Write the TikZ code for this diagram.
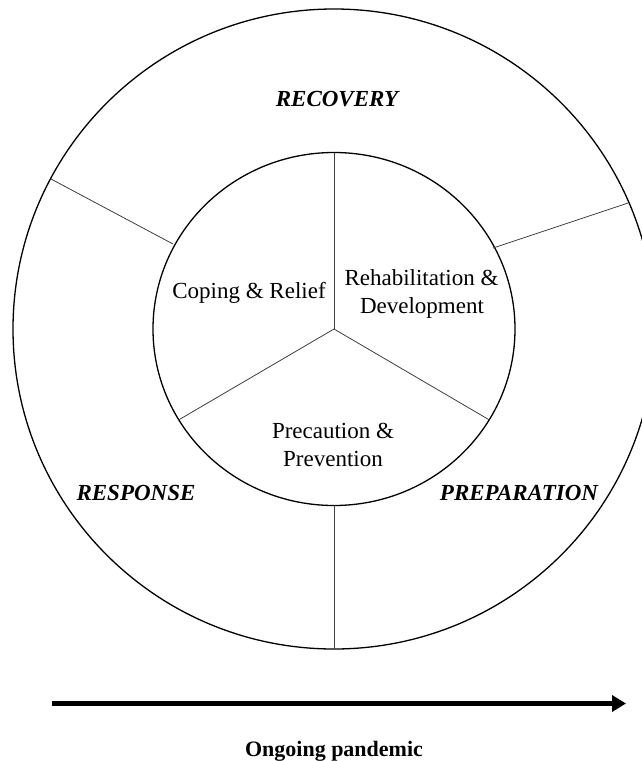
\documentclass[tikz,border=0pt]{standalone}
\usepackage{fontspec}
\setmainfont{Liberation Serif}
\usetikzlibrary{arrows.meta}
\tikzset{
  ring/.style={line width=1.3pt, draw=black},
  divider/.style={line width=0.8pt, draw=black!75},
  phase/.style={font=\fontsize{23}{28}\selectfont\bfseries\itshape, anchor=base, inner sep=0pt},
  inner/.style={font=\fontsize{23}{28}\selectfont, anchor=base, inner sep=0pt},
  timeline/.style={line width=5pt, -{Triangle[length=14pt,width=16pt]}},
  caption/.style={font=\fontsize{22}{26}\selectfont\bfseries, anchor=base, inner sep=0pt}
}
\begin{document}
\begin{tikzpicture}[x=1pt,y=-1pt]
\useasboundingbox (0,0) rectangle (642,761);
\fill[white] (0,0) rectangle (642,761);
\begin{scope}
\clip (0,0) rectangle (642,761);
% outer ring
\draw[ring] (334,329) ellipse [x radius=321, y radius=320];
% inner circle
\draw[ring] (334,329) ellipse [x radius=181, y radius=176.5];
% coordinates
\coordinate (c) at (334,329);
\coordinate (itop) at (334,152.5);
\coordinate (ill) at (178.5,420);
\coordinate (ilr) at (489.5,420);
\coordinate (iul) at (173,244);
\coordinate (oul) at (51,179);
\coordinate (iur) at (493,248);
\coordinate (our) at (628,203);
\coordinate (ibot) at (334,505.5);
\coordinate (obot) at (334,649);
% spokes
\draw[divider] (c) -- (itop);
\draw[divider] (c) -- (ill);
\draw[divider] (c) -- (ilr);
% ring dividers
\draw[divider] (iul) -- (oul);
\draw[divider] (iur) -- (our);
\draw[divider] (ibot) -- (obot);
\end{scope}
% labels
\node[phase] (recovery) at (337,106) {RECOVERY};
\node[phase] (response) at (136,500) {RESPONSE};
\node[phase] (preparation) at (519,500) {PREPARATION};
\node[inner] (coping) at (249,298) {Coping \& Relief};
\node[inner] (rehab1) at (421.5,285) {Rehabilitation \&};
\node[inner] (rehab2) at (422,313) {Development};
\node[inner] (prec1) at (333,438) {Precaution \&};
\node[inner] (prec2) at (333,466) {Prevention};
% timeline
\coordinate (tstart) at (52,703.5);
\coordinate (tend) at (626,703.5);
\draw[timeline] (tstart) -- (tend);
\node[caption] (ongoing) at (334,756) {Ongoing pandemic};
\end{tikzpicture}
\end{document}
